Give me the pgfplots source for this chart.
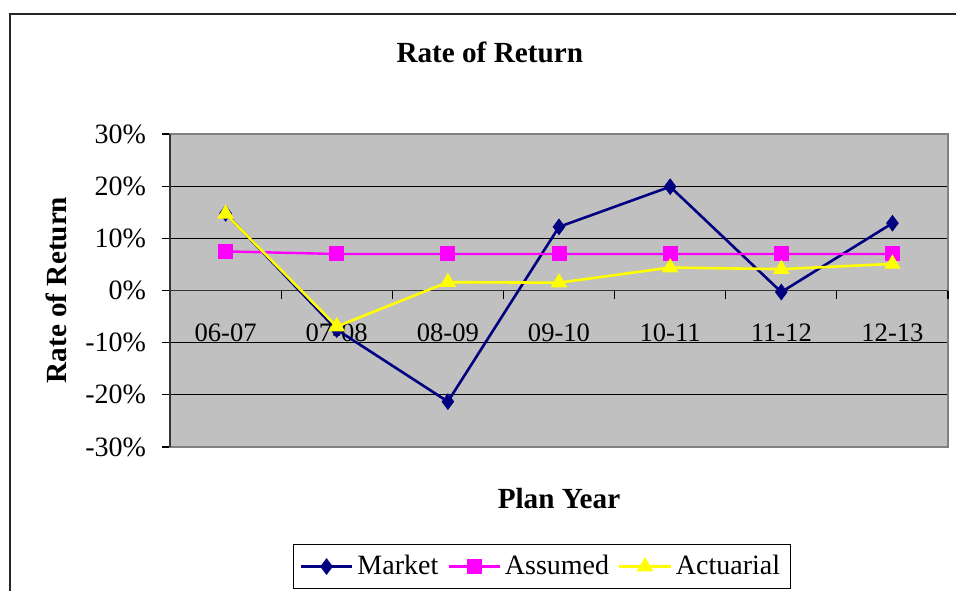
\documentclass[border=0pt]{standalone}
\usepackage{pgfplots}
\pgfplotsset{compat=1.18}
\usepackage{fontspec}
\setmainfont{Liberation Serif}
\definecolor{mkt}{HTML}{000080}
\definecolor{asm}{HTML}{FF00FF}
\definecolor{act}{HTML}{FFFF00}
\definecolor{plotbg}{HTML}{C0C0C0}
\definecolor{boxgray}{HTML}{808080}
\pgfplotstableread{
x market assumed actuarial
0 14.8 7.5 14.7
1 -7.5 7.0 -6.9
2 -21.3 7.0 1.6
3 12.2 7.0 1.5
4 19.9 7.0 4.4
5 -0.3 7.0 4.1
6 12.9 7.0 5.1
}\ratetable
\begin{document}
\begin{tikzpicture}
\path[use as bounding box] (0,0) rectangle (478pt,295pt);
\draw[line width=1pt, black!85] (5pt,-1pt) -- (5pt,288pt) -- (479pt,288pt);
\begin{axis}[
  at={(85pt,71.5pt)}, anchor=south west,
  width=389pt, height=156.5pt, scale only axis,
  xmin=-0.5, xmax=6.5, ymin=-30, ymax=30,
  axis background/.style={fill=plotbg},
  axis line style={boxgray, line width=1.2pt},
  xtick={0,...,6},
  xticklabels={06-07,07-08,08-09,09-10,10-11,11-12,12-13},
  major x tick style={draw=none},
  xticklabel style={anchor=center, yshift=61pt, font=\fontsize{13.3}{15}\selectfont},
  ytick={-30,-20,...,30},
  yticklabels={-30\%,-20\%,-10\%,0\%,10\%,20\%,30\%},
  ytick pos=left, tick align=outside,
  major tick length=4pt,
  major y tick style={black, line width=0.6pt},
  yticklabel style={font=\fontsize{14}{16}\selectfont, xshift=-4.5pt},
  ymajorgrids, grid style={black, line width=0.5pt},
  every axis title shift=0pt,
  title={Rate of Return},
  title style={at={(axis description cs:0.411,1.262)}, anchor=center, font=\fontsize{14.6}{17}\selectfont\bfseries},
  xlabel={Plan Year},
  xlabel style={at={(axis description cs:0.5,-0.163)}, anchor=center, font=\fontsize{14.6}{17}\selectfont\bfseries},
  ylabel={Rate of Return},
  ylabel style={at={(axis description cs:-0.146,0.5016)}, anchor=center, rotate=0, font=\fontsize{14.6}{17}\selectfont\bfseries},
  legend columns=3,
  legend style={at={(axis description cs:0.478,-0.382)}, anchor=center,
    draw=black, line width=0.6pt, font=\fontsize{14}{15}\selectfont,
    inner xsep=3pt, inner ysep=3.5pt,
    /tikz/every even column/.append style={column sep=2.5pt}},
  legend cell align=left,
  legend image code/.code={\draw[mark repeat=2,mark phase=2,#1] plot coordinates {(0cm,0cm)(0.45cm,0cm)(0.9cm,0cm)};},
  clip=false,
]
\draw[black!80, line width=0.8pt] (axis cs:-0.5,0) -- (axis cs:6.5,0);
\draw[black, line width=0.6pt] (axis cs:0.5,0) -- (axis cs:0.5,-1.55);
\draw[black, line width=0.6pt] (axis cs:1.5,0) -- (axis cs:1.5,-1.55);
\draw[black, line width=0.6pt] (axis cs:2.5,0) -- (axis cs:2.5,-1.55);
\draw[black, line width=0.6pt] (axis cs:3.5,0) -- (axis cs:3.5,-1.55);
\draw[black, line width=0.6pt] (axis cs:4.5,0) -- (axis cs:4.5,-1.55);
\draw[black, line width=0.6pt] (axis cs:5.5,0) -- (axis cs:5.5,-1.55);
\draw[black, line width=0.6pt] (axis cs:6.5,0) -- (axis cs:6.5,-1.55);
\draw[black!80, line width=1.2pt] (axis cs:-0.5,-30) -- (axis cs:-0.5,30);
\addplot[mkt, line width=1.3pt, mark=diamond*, mark size=3.8pt, mark options={fill=mkt, draw=mkt, line width=0.5pt}] table[x=x, y=market] {\ratetable};
\addlegendentry{Market}
\addplot[asm, line width=1.2pt, mark=square*, mark size=3.5pt, mark options={fill=asm, draw=asm, line width=0.5pt}] table[x=x, y=assumed] {\ratetable};
\addlegendentry{Assumed}
\addplot[act, line width=1.3pt, mark=triangle*, mark size=4.3pt, mark options={fill=act, draw=act, line width=0.5pt}] table[x=x, y=actuarial] {\ratetable};
\addlegendentry{Actuarial}
\end{axis}
\end{tikzpicture}
\end{document}
